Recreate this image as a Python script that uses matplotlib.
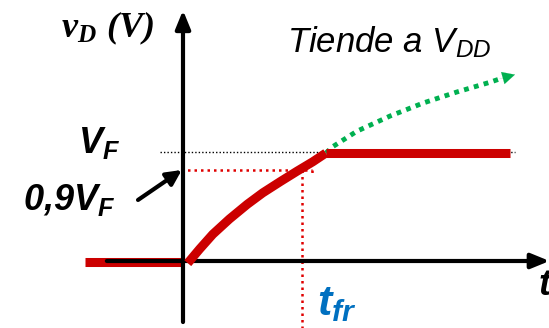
import matplotlib
matplotlib.use("Agg")
import matplotlib.pyplot as plt

plt.rcParams['mathtext.fontset'] = 'custom'
plt.rcParams['mathtext.rm'] = 'Liberation Serif:bold:italic'
plt.rcParams['mathtext.it'] = 'Liberation Sans:italic'
plt.rcParams['mathtext.bf'] = 'Liberation Sans:bold:italic'

# --- data (t in units of t_fr, v in units of V_F) ---
t_before = [-0.82, 0.0]
v_before = [-0.01, -0.01]
t_rise = [0.04, 0.14, 0.25, 0.39, 0.54, 0.67, 0.82, 0.96, 1.09, 1.20]
v_rise = [-0.02, 0.11, 0.245, 0.385, 0.52, 0.625, 0.73, 0.825, 0.91, 0.99]
t_flat = [1.20, 2.75]
v_flat = [0.99, 0.99]
t_green = [1.20, 1.26, 1.46, 1.74, 2.02, 2.30, 2.58, 2.66]
v_green = [0.99, 1.05, 1.19, 1.33, 1.45, 1.55, 1.64, 1.67]
green_tip = (2.79, 1.71)
vf_level = 1.0
v09_level = 0.835
t_fr = 1.0

fig = plt.figure(figsize=(5.49, 3.28), dpi=100)
ax = fig.add_axes([0, 0, 1, 1])
ax.set_xlim(-183/119, 366/119)
ax.set_ylim(-67/109, 261/109)
ax.axis('off')

red = '#CC0000'
dotred = '#E00000'
# reference lines
ax.plot([-0.19, 2.79], [vf_level, vf_level], color='black', lw=1.0, ls=(0, (1, 1.5)), zorder=1)
ax.plot([-0.02, 1.08], [v09_level, v09_level], color=dotred, lw=1.8, ls=(0, (1, 1.6)), zorder=1)
ax.plot([1.08, 1.08], [v09_level, 0.79], color=dotred, lw=1.8, ls=(0, (1, 1.6)), zorder=1)
ax.plot([t_fr, t_fr], [v09_level, -0.62], color=dotred, lw=1.8, ls=(0, (1, 1.6)), zorder=1)

arw = dict(shrinkA=0, shrinkB=0)
# axes arrows
ax.annotate('', xy=(0, 2.30), xytext=(0, -0.56), annotation_clip=False,
            arrowprops=dict(arrowstyle='-|>,head_length=1.1,head_width=0.45', color='black', lw=3, **arw), zorder=3)
ax.annotate('', xy=(3.08, 0.0), xytext=(-0.64, 0.0), annotation_clip=False,
            arrowprops=dict(arrowstyle='-|>,head_length=1.1,head_width=0.45', color='black', lw=3, **arw), zorder=3)

# red signal
ax.plot(t_before, v_before, color=red, lw=6.5, solid_capstyle='butt', zorder=2)
ax.plot(t_rise, v_rise, color=red, lw=6.5, solid_capstyle='butt', solid_joinstyle='round', zorder=4)
ax.plot(t_flat, v_flat, color=red, lw=6.5, solid_capstyle='butt', zorder=4)

# green dotted extrapolation
ax.plot(t_green, v_green, color='#00B050', lw=3.5, ls=(0, (1, 1.1)), zorder=3)
ax.annotate('', xy=green_tip, xytext=(t_green[-1], v_green[-1]), annotation_clip=False,
            arrowprops=dict(arrowstyle='-|>,head_length=0.9,head_width=0.45', color='#00B050', lw=0.1, **arw), zorder=3)

# 0.9 V_F arrow
ax.annotate('', xy=(-0.01, v09_level), xytext=(-0.378, 0.56), annotation_clip=False,
            arrowprops=dict(arrowstyle='-|>,head_length=0.9,head_width=0.45', color='black', lw=3, **arw), zorder=3)

# texts
ax.text(-1.025, 2.055, r'$\mathrm{v_{D}\ (V)}$', fontsize=26, va='baseline', ha='left')
ax.text(0.874, 1.917, r'$\mathit{Tiende\ a\ V_{DD}}$', fontsize=25, va='baseline', ha='left')
ax.text(-0.88, 0.99, r'$\mathbf{V_{F}}$', fontsize=26, va='baseline', ha='left')
ax.text(-1.345, 0.468, r'$\mathbf{0{,}9V_{F}}$', fontsize=26, va='baseline', ha='left')
ax.text(1.126, -0.495, r'$\mathbf{t_{fr}}$', fontsize=31, va='baseline', ha='left', color='#0070C0')
ax.text(2.98, -0.315, r'$\mathbf{t}$', fontsize=26, va='baseline', ha='left')

fig.savefig('out.png', dpi=100)
